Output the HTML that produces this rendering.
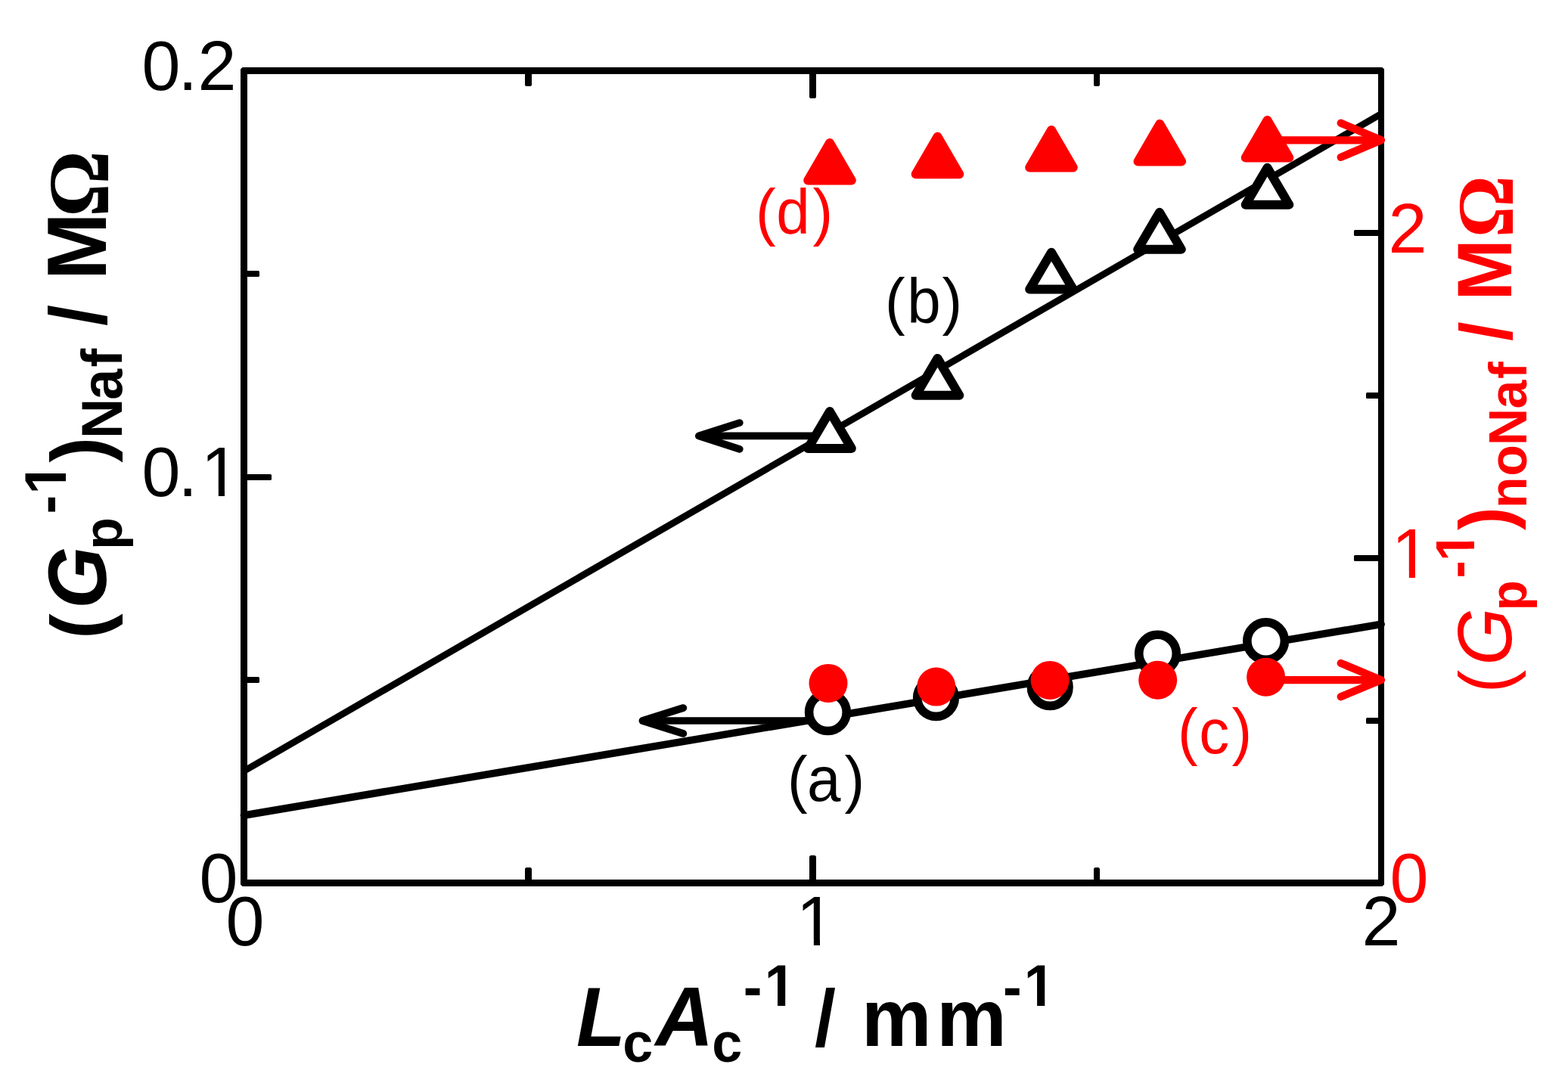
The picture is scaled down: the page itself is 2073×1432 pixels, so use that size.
<!DOCTYPE html>
<html lang="en">
<head>
<meta charset="utf-8">
<title>Gp-1 versus LcAc-1</title>
<style>
html,body{margin:0;padding:0;background:#fff;}
body{width:2073px;height:1432px;overflow:hidden;}
svg{display:block;}
text{font-family:"Liberation Sans",sans-serif;font-size:100px;white-space:pre;}
.b,.bi,.bs{font-weight:bold;}
.i,.bi{font-style:italic;}
.bs{font-family:"Liberation Serif",serif;}
</style>
</head>
<body>
<svg width="2073" height="1432" viewBox="0 0 2073 1432">
<defs><clipPath id="k0"><path clip-rule="evenodd" d="M-300,-200H900V120H-300ZM90.1,-8.4H110.6V4H90.1ZM119.5,-8.4H139.2V4H119.5Z"/></clipPath><clipPath id="k1"><path clip-rule="evenodd" d="M-300,-200H900V120H-300ZM4.6,-8.4H25.1V4H4.6ZM34.0,-8.4H53.7V4H34.0Z"/></clipPath><clipPath id="k2"><path clip-rule="evenodd" d="M-100,-300H1000V300H-100ZM253.2,-59.2H268.0V-47.0H253.2ZM278.2,-59.2H292.1V-47.0H278.2ZM596.3,-59.2H611.1V-47.0H596.3ZM621.3,-59.2H635.2V-47.0H621.3Z"/></clipPath><clipPath id="k3"><path clip-rule="evenodd" d="M-100,-300H1000V300H-100ZM194.0,-59.3H208.8V-47.1H194.0ZM219.0,-59.3H232.9V-47.1H219.0Z"/></clipPath><clipPath id="k4"><path clip-rule="evenodd" d="M-100,-300H1000V300H-100ZM175.4,-54.9H189.4V-43.1H175.4ZM199.0,-54.9H212.0V-43.1H199.0Z"/></clipPath></defs>
<rect x="0" y="0" width="2073" height="1432" fill="#fff"/>
<g stroke="#000" stroke-linecap="round" fill="none">
<line x1="322.5" y1="1019.5" x2="1825.5" y2="150.9" stroke-width="8.9"/>
<line x1="322.5" y1="1078.05" x2="1826" y2="825.35" stroke-width="9.8"/>
</g>
<path fill="#000" fill-rule="evenodd" d="M320.6,89.0H1827.4L1830.0,91.6V1169.4L1827.4,1172.0H320.6L318.0,1169.4V91.6ZM327.0,98.0V1163.0H1822.0V98.0Z"/>
<g fill="#000">
<rect x="324" y="627" width="35" height="8" rx="1.6"/>
<rect x="324" y="358" width="19" height="8" rx="1.6"/>
<rect x="324" y="895" width="19" height="8" rx="1.6"/>
<rect x="1790" y="734" width="35" height="8" rx="1.6"/>
<rect x="1790" y="304" width="35" height="8" rx="1.6"/>
<rect x="1806" y="949" width="19" height="8" rx="1.6"/>
<rect x="1806" y="519" width="19" height="8" rx="1.6"/>
<rect x="1070" y="1131" width="9" height="35" rx="2.6"/>
<rect x="1070" y="95" width="9" height="35" rx="2.6"/>
<rect x="694" y="1147" width="9" height="19" rx="2.6"/>
<rect x="694" y="95" width="9" height="19" rx="2.6"/>
<rect x="1446" y="1147" width="8" height="19" rx="2.6"/>
<rect x="1446" y="95" width="8" height="19" rx="2.6"/>
</g>
<g stroke="#000" stroke-width="9.7" fill="none" stroke-linecap="round" stroke-linejoin="round"><line x1="1080" y1="576.4" x2="923.8" y2="576.4" stroke-linecap="butt"/><polyline points="977.8,559 923.8,576.4 977.8,593.8"/></g>
<g stroke="#000" stroke-width="9.7" fill="none" stroke-linecap="round" stroke-linejoin="round"><line x1="1075" y1="953.0" x2="849.4" y2="953.0" stroke-linecap="butt"/><polyline points="903.4,936 849.4,953.0 903.4,970"/></g>
<polygon points="1097.00,544.00 1125.80,592.90 1068.20,592.90" fill="#fff" stroke="#000" stroke-width="12.0" stroke-linejoin="round"/>
<polygon points="1239.50,473.90 1268.30,522.80 1210.70,522.80" fill="#fff" stroke="#000" stroke-width="12.0" stroke-linejoin="round"/>
<polygon points="1390.00,333.70 1418.80,382.60 1361.20,382.60" fill="#fff" stroke="#000" stroke-width="12.0" stroke-linejoin="round"/>
<polygon points="1533.00,280.80 1561.80,329.70 1504.20,329.70" fill="#fff" stroke="#000" stroke-width="12.0" stroke-linejoin="round"/>
<polygon points="1675.50,221.80 1704.30,270.70 1646.70,270.70" fill="#fff" stroke="#000" stroke-width="12.0" stroke-linejoin="round"/>
<circle cx="1094.4" cy="941.7" r="24.8" fill="#fff" stroke="#000" stroke-width="11.6"/>
<circle cx="1237.5" cy="922.6" r="24.8" fill="#fff" stroke="#000" stroke-width="11.6"/>
<circle cx="1388.2" cy="908.6" r="24.8" fill="#fff" stroke="#000" stroke-width="11.6"/>
<circle cx="1530.5" cy="864.1" r="24.8" fill="#fff" stroke="#000" stroke-width="11.6"/>
<circle cx="1673.6" cy="847.6" r="24.8" fill="#fff" stroke="#000" stroke-width="11.6"/>
<g stroke="#ff0000" stroke-width="10.2" fill="none" stroke-linecap="round" stroke-linejoin="round"><line x1="1680" y1="185.3" x2="1826.0" y2="185.3" stroke-linecap="butt"/><polyline points="1772.7,162.7 1826.0,185.3 1772.7,207.9"/></g>
<g stroke="#ff0000" stroke-width="10.2" fill="none" stroke-linecap="round" stroke-linejoin="round"><line x1="1680" y1="899.1" x2="1826.0" y2="899.1" stroke-linecap="butt"/><polyline points="1772.7,876.9 1826.0,899.1 1772.7,921.3"/></g>
<polygon points="1097.00,189.00 1125.80,238.50 1068.20,238.50" fill="#ff0000" stroke="#ff0000" stroke-width="12.0" stroke-linejoin="round"/>
<polygon points="1239.50,180.70 1268.30,230.20 1210.70,230.20" fill="#ff0000" stroke="#ff0000" stroke-width="12.0" stroke-linejoin="round"/>
<polygon points="1390.00,172.00 1418.80,221.50 1361.20,221.50" fill="#ff0000" stroke="#ff0000" stroke-width="12.0" stroke-linejoin="round"/>
<polygon points="1533.30,163.90 1562.10,213.40 1504.50,213.40" fill="#ff0000" stroke="#ff0000" stroke-width="12.0" stroke-linejoin="round"/>
<polygon points="1675.50,159.00 1704.30,208.50 1646.70,208.50" fill="#ff0000" stroke="#ff0000" stroke-width="12.0" stroke-linejoin="round"/>
<circle cx="1095" cy="903.4" r="25.5" fill="#ff0000"/>
<circle cx="1237.8" cy="908.1" r="25.5" fill="#ff0000"/>
<circle cx="1388.1" cy="899.4" r="25.5" fill="#ff0000"/>
<circle cx="1530.7" cy="899.2" r="25.5" fill="#ff0000"/>
<circle cx="1673.6" cy="895.2" r="25.5" fill="#ff0000"/>
<text transform="translate(187.42,118.90) scale(0.9167,0.9350)" x="0.0 52.5 80.7">0.2</text>
<text transform="translate(187.42,655.90) scale(0.9167,0.9350)" x="0.0 52.5 85.5" clip-path="url(#k0)">0.1</text>
<text transform="translate(263.42,1192.90) scale(0.9167,0.9350)">0</text>
<text transform="translate(298.42,1249.90) scale(0.9167,0.9350)">0</text>
<text transform="translate(1052.83,1249.90) scale(0.9167,0.9350)" clip-path="url(#k1)">1</text>
<text transform="translate(1800.39,1249.90) scale(0.9167,0.9350)">2</text>
<text transform="translate(1835.39,333.90) scale(0.9167,0.9350)" fill="#ff0000">2</text>
<text transform="translate(1839.83,763.90) scale(0.9167,0.9350)" fill="#ff0000" clip-path="url(#k1)">1</text>
<text transform="translate(1837.42,1192.90) scale(0.9167,0.9350)" fill="#ff0000">0</text>
<text transform="translate(998.93,308.90) scale(0.8000,0.8260)" x="0.0 34.0 94.4" fill="#ff0000">(d)</text>
<text transform="translate(1169.93,426.90) scale(0.8000,0.8260)" x="0.0 36.8 94.4">(b)</text>
<text transform="translate(1040.93,1058.90) scale(0.8000,0.8260)" x="0.0 32.7 94.4">(a)</text>
<text transform="translate(1556.93,995.90) scale(0.8000,0.8260)" x="0.0 35.5 89.4" fill="#ff0000">(c)</text>
<text transform="translate(760,1383) scale(1,1.04)" clip-path="url(#k2)"><tspan x="2.1" y="-0.1" font-size="106.2" class="bi">L</tspan><tspan x="63.2" y="20.4" font-size="71.9" class="b">c</tspan><tspan x="106.4" y="-0.1" font-size="106.2" class="bi">A</tspan><tspan x="181.2" y="20.4" font-size="71.9" class="b">c</tspan><tspan x="222.8 250.7" y="-49.5 -51.0" font-size="74.1" class="b">-1</tspan><tspan x="290.0 316.9 355.0" y="-0.1" font-size="100.8" class="b"> / </tspan><tspan x="379.0 478.2" y="-0.1" font-size="104" class="b">mm</tspan><tspan x="565.9 593.8" y="-49.5 -51.0" font-size="74.1" class="b">-1</tspan></text>
<text transform="translate(140,845) rotate(-90) scale(1,1.04)" clip-path="url(#k3)"><tspan x="0.3" y="-0.4" font-size="100.4" class="b">(</tspan><tspan x="39.9" y="-0.2" font-size="105.9" class="bi">G</tspan><tspan x="118.0" y="20.0" font-size="70.2" class="b">p</tspan><tspan x="165.4 191.5" y="-48.8 -51.1" font-size="74.1" class="b">-1</tspan><tspan x="233.5" y="-0.4" font-size="100.4" class="b">)</tspan><tspan x="265.1 316.3 359.6" y="20.5" font-size="73.5" class="b">Naf</tspan><tspan x="393.0 414.0 453.0" y="0.0" font-size="100.8" class="b"> / </tspan><tspan x="475.0" y="0.0" font-size="106.4" class="b">M</tspan><tspan x="558.0" y="2.4" font-size="109.7" class="bs">Ω</tspan></text>
<text transform="translate(1998,915) rotate(-90) scale(1,1.04)" fill="#ff0000" clip-path="url(#k4)"><tspan x="-1.2" y="-0.7" font-size="91.9">(</tspan><tspan x="35.3" y="-0.2" font-size="97.5" class="i">G</tspan><tspan x="107.7" y="19.2" font-size="65.2" class="b">p</tspan><tspan x="150.6 173.1" y="-45.9 -47.1" font-size="69.7" class="b">-1</tspan><tspan x="214.0" y="-0.7" font-size="91.8" class="b">)</tspan><tspan x="243.0 285.3 326.1 374.5 414.0" y="19.3" font-size="68" class="b">noNaf</tspan><tspan x="445.0 464.1 500.0" y="-0.2" font-size="92.6" class="b"> / </tspan><tspan x="517.5" y="-0.2" font-size="97.6" class="b">M</tspan><tspan x="600.7" y="2.2" font-size="102.5" class="bs">Ω</tspan></text>
</svg>
</body>
</html>
